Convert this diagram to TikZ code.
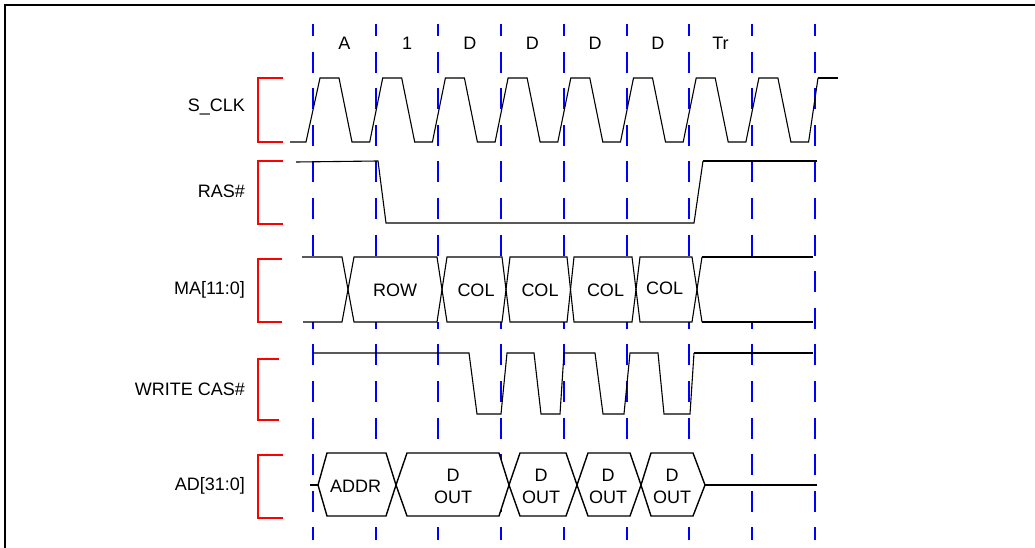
\documentclass[tikz,border=0pt]{standalone}
\usepackage{fontspec}
\setmainfont{Liberation Sans}
\begin{document}
\begin{tikzpicture}[x=1pt,y=-1pt,
  wave/.style={line width=1.1pt,black,line join=miter},
  thickwave/.style={line width=2.2pt,black},
  hex/.style={line width=1.4pt,black,fill=white},
  grid/.style={blue,line width=2pt,dash pattern=on 21pt off 15.6pt,dash phase=9pt},
  brk/.style={red,line width=2pt},
  sig/.style={anchor=east,font=\fontsize{18}{22}\selectfont,inner sep=0pt},
  ph/.style={font=\fontsize{18}{22}\selectfont,inner sep=0pt},
  lab/.style={font=\fontsize{18}{22}\selectfont,inner sep=0pt,align=center}]
\useasboundingbox (0,0) rectangle (1035,548);
\fill[white] (0,0) rectangle (1035,548);
% frame (cropped)
\draw[line width=2pt] (5,548) -- (5,5) -- (1035,5);
% dashed grid
\foreach \i in {0,...,8} \draw[grid] ({313+62.7*\i},24) -- ({313+62.7*\i},540);
% phase labels
\foreach \t [count=\k from 0] in {A,1,D,D,D,D,Tr}
  \node[ph] (ph\k) at ({344.35+62.7*\k},43) {\t};
% signal labels
\node[sig] (lclk) at (245,107) {S\_CLK};
\node[sig] (lras) at (245,191) {RAS\#};
\node[sig] (lma)  at (245,290) {MA[11:0]};
\node[sig] (lcas) at (245,389) {WRITE CAS\#};
\node[sig] (lad)  at (245,486) {AD[31:0]};
% brackets
\draw[brk] (283,78) -- (258,78) -- (258,142) -- (283,142);
\draw[brk] (283,161) -- (258,161) -- (258,224) -- (283,224);
\draw[brk] (282,259) -- (258,259) -- (258,322) -- (282,322);
\draw[brk] (279,359) -- (258,359) -- (258,420) -- (279,420);
\draw[brk] (283,455) -- (258,455) -- (258,518) -- (283,518);
% S_CLK
\draw[wave] (290,142) -- (306,142)
  foreach \i in {0,...,7} {
    -- ({313+62.7*\i+7},78) -- ({313+62.7*\i+26},78) -- ({313+62.7*\i+39},142) -- ({313+62.7*(\i+1)-6},142)
  } -- (818,78);
\draw[thickwave] (818,78) -- (838,78);
% RAS#
\draw[wave] (296,162) -- (378,161) -- (386,223) -- (694,223) -- (703,161);
\draw[thickwave] (703,161) -- (817,161);
% MA[11:0]
\fill[white] (302,257) rectangle (813,322);
\draw[wave] (302,257) -- (342,257) -- (354,322) -- (437,322) -- (447,257) -- (502,257) -- (510,322) -- (567,322) -- (574,257) -- (632,257) -- (640,322) -- (692,322) -- (702,257);
\draw[wave] (303,322) -- (342,322) -- (354,257) -- (437,257) -- (447,322) -- (502,322) -- (510,257) -- (567,257) -- (574,322) -- (632,322) -- (640,257) -- (692,257) -- (702,322);
\draw[thickwave] (702,257) -- (813,257);
\draw[thickwave] (702,322) -- (813,322);
\node[lab] (row)  at (395,290) {ROW};
\node[lab] (col1) at (476,290) {COL};
\node[lab] (col2) at (540,290) {COL};
\node[lab] (col3) at (605.5,290) {COL};
\node[lab] (col4) at (664.5,288) {COL};
% WRITE CAS#
\draw[wave] (313,353) -- (469,353) -- (477,414) -- (501,414) -- (507,353) -- (534,353) -- (541,414) -- (560,414) -- (564,353) -- (595,353) -- (603,414) -- (624,414) -- (630,353) -- (658,353) -- (664,414) -- (690,414) -- (694,353);
\draw[thickwave] (694,353) -- (813,353);
% AD[31:0]
\draw[wave] (310,485) -- (318,485);
\draw[hex] (318,485) -- (327,453) -- (386,453) -- (396,485) -- (386,516) -- (327,516) -- cycle;
\draw[hex] (396,485) -- (407,453) -- (499,453) -- (509,485) -- (499,516) -- (407,516) -- cycle;
\draw[hex] (509,485) -- (520,453) -- (566,453) -- (577,485) -- (566,516) -- (520,516) -- cycle;
\draw[hex] (577,485) -- (588,453) -- (630,453) -- (641,485) -- (630,516) -- (588,516) -- cycle;
\draw[hex] (641,485) -- (651,453) -- (693,453) -- (705,485) -- (693,516) -- (651,516) -- cycle;
\draw[wave] (705,485) -- (817,485);
\node[lab] (addr) at (355.5,486) {ADDR};
\node[lab] (d1) at (453,486) {D\\OUT};
\node[lab] (d2) at (541,486) {D\\OUT};
\node[lab] (d3) at (608,486) {D\\OUT};
\node[lab] (d4) at (672,486) {D\\OUT};
\end{tikzpicture}
\end{document}
